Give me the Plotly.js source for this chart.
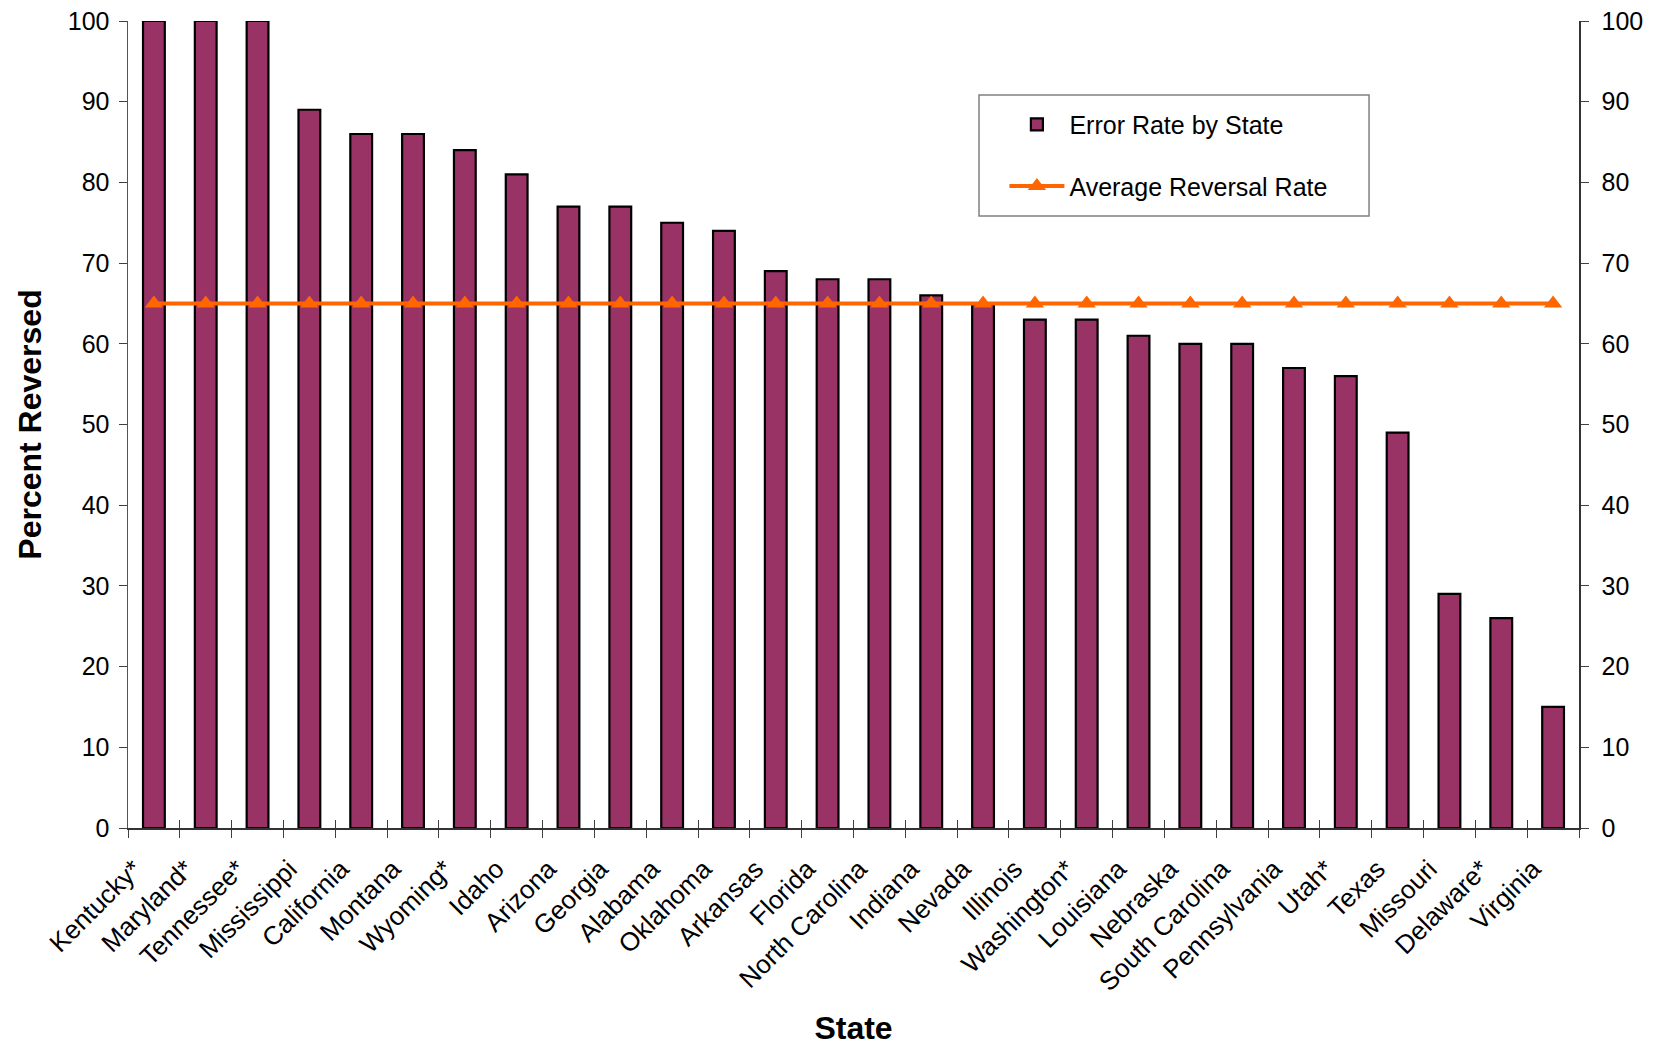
<!DOCTYPE html>
<html>
<head>
<meta charset="utf-8">
<script src="https://cdn.plot.ly/plotly-3.0.1.min.js"></script>
<style>html,body{margin:0;padding:0;background:#fff;}#chart{width:1654px;height:1046px;}</style>
</head>
<body>
<div id="chart"></div>
<script>
const states = ["Kentucky*","Maryland*","Tennessee*","Mississippi","California","Montana","Wyoming*","Idaho","Arizona","Georgia","Alabama","Oklahoma","Arkansas","Florida","North Carolina","Indiana","Nevada","Illinois","Washington*","Louisiana","Nebraska","South Carolina","Pennsylvania","Utah*","Texas","Missouri","Delaware*","Virginia"];
const errorRate = [100,100,100,89,86,86,84,81,77,77,75,74,69,68,68,66,65,63,63,61,60,60,57,56,49,29,26,15];
const averageRate = [65,65,65,65,65,65,65,65,65,65,65,65,65,65,65,65,65,65,65,65,65,65,65,65,65,65,65,65];
const yTicks = [0,10,20,30,40,50,60,70,80,90,100];

const FONT = "Liberation Sans, Arial, sans-serif";
const xr = [-0.5, states.length - 0.5];

const traces = [
  {
    type: "bar", name: "Error Rate by State", x: states, y: errorRate,
    xaxis: "x", yaxis: "y", legendgroup: "a",
    marker: {color: "#993366", line: {color: "#000000", width: 2.2}}
  },
  {
    type: "scatter", mode: "lines+markers", name: "Average Reversal Rate",
    x: states, y: averageRate, xaxis: "x2", yaxis: "y2", legendgroup: "b",
    line: {color: "#FF6600", width: 4},
    marker: {symbol: "triangle-up", size: 16, color: "#FF6600"}
  }
];

const layout = {
  width: 1654, height: 1046,
  margin: {l: 128, r: 75, t: 21, b: 218},
  paper_bgcolor: "#ffffff", plot_bgcolor: "#ffffff",
  font: {family: FONT, color: "#000000", size: 24},
  bargap: 0.58,
  showlegend: true,
  legend: {
    x: 0.604, y: 0.9, xanchor: "left", yanchor: "top",
    bgcolor: "rgba(0,0,0,0)", borderwidth: 0,
    font: {family: FONT, size: 25, color: "#000"},
    itemwidth: 55,
    tracegroupgap: 26, traceorder: "grouped"
  },
  xaxis: {
    type: "category", range: xr, tickangle: -45,
    tickfont: {family: FONT, size: 26},
    ticks: "outside", ticklen: 8, tickcolor: "#404040", tickson: "boundaries",
    ticklabelstandoff: 14, ticklabelshift: -20,
    showline: true, linecolor: "#333333", linewidth: 1.5,
    showgrid: false, zeroline: false, fixedrange: true,
    title: {text: "State", font: {family: FONT, size: 32, color: "#000", weight: "bold"}, standoff: 22}
  },
  xaxis2: {
    type: "category", range: xr, overlaying: "x", anchor: "y2", side: "bottom",
    ticks: "inside", ticklen: 8, tickcolor: "#404040", tickson: "boundaries",
    showticklabels: false, showline: false, showgrid: false, zeroline: false
  },
  xaxis3: {
    type: "category", range: xr, overlaying: "x", anchor: "y", side: "top",
    ticks: "", showticklabels: false, showline: true, linecolor: "#888888", linewidth: 1.5,
    showgrid: false, zeroline: false
  },
  yaxis: {
    range: [0, 100], tickvals: yTicks, ticktext: yTicks.map(String),
    tickfont: {family: FONT, size: 25},
    ticks: "outside", ticklen: 8, tickcolor: "#404040", ticklabelstandoff: 4,
    showline: true, linecolor: "#555555", linewidth: 1.5,
    showgrid: false, zeroline: false,
    title: {text: "Percent Reversed", font: {family: FONT, size: 32, color: "#000", weight: "bold"}, standoff: 16}
  },
  yaxis2: {
    range: [0, 100], tickvals: yTicks, ticktext: yTicks.map(String), overlaying: "y", side: "right", anchor: "x2",
    tickfont: {family: FONT, size: 25},
    ticks: "outside", ticklen: 8, tickcolor: "#404040", ticklabelstandoff: 8,
    showline: true, linecolor: "#333333", linewidth: 1.5,
    showgrid: false, zeroline: false
  },
  shapes: [
    {type: "rect", xref: "paper", yref: "paper", x0: 0.5865, x1: 0.8553, y0: 0.7584, y1: 0.9083,
     line: {color: "#808080", width: 1.5}, fillcolor: "rgba(0,0,0,0)", layer: "above"}
  ]
};

Plotly.newPlot("chart", traces, layout, {displayModeBar: false, staticPlot: true});
</script>
</body>
</html>
